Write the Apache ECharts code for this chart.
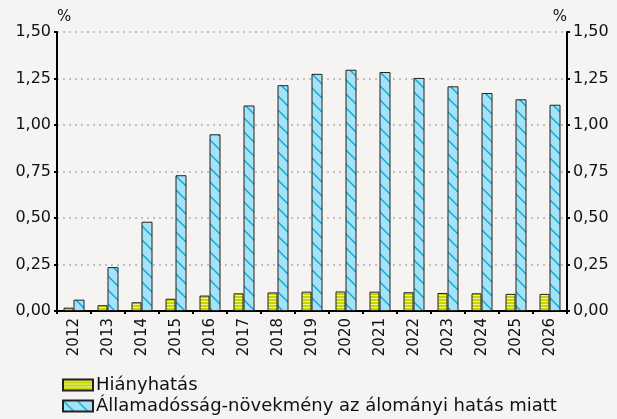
<!DOCTYPE html>
<html>
<head>
<meta charset="utf-8">
<script src="https://cdn.jsdelivr.net/npm/echarts@6/dist/echarts.min.js"></script>
<style>
  html, body { margin: 0; padding: 0; background: #f5f4f2; }
  #chart { width: 617px; height: 419px; }
</style>
</head>
<body>
<div id="chart"></div>
<script>
var years = ['2012', '2013', '2014', '2015', '2016', '2017', '2018', '2019', '2020', '2021', '2022', '2023', '2024', '2025', '2026'];
var hiany = [0.018, 0.031, 0.047, 0.066, 0.083, 0.095, 0.100, 0.104, 0.105, 0.104, 0.101, 0.097, 0.095, 0.092, 0.092];
var allamadossag = [0.061, 0.236, 0.48, 0.73, 0.95, 1.105, 1.214, 1.275, 1.297, 1.285, 1.253, 1.208, 1.172, 1.138, 1.109];
var tickLabels = ['0,00', '0,25', '0,50', '0,75', '1,00', '1,25', '1,50'];
var seriesNames = ['Hiányhatás', 'Államadósság-növekmény az álományi hatás miatt'];

// stripe fills
function yellowPattern() {
    var c = document.createElement('canvas');
    c.width = 4; c.height = 3;
    var ctx = c.getContext('2d');
    ctx.fillStyle = '#c6d400';
    ctx.fillRect(0, 0, 4, 3);
    ctx.fillStyle = '#f0f29a';
    ctx.fillRect(0, 1, 4, 1);
    return c;
}
function bluePattern() {
    var c = document.createElement('canvas');
    c.width = 14; c.height = 14;
    var ctx = c.getContext('2d');
    ctx.fillStyle = '#a3e3f5';
    ctx.fillRect(0, 0, 14, 14);
    ctx.strokeStyle = '#12a6d8';
    ctx.lineWidth = 1.4;
    ctx.beginPath();
    ctx.moveTo(-1, -1); ctx.lineTo(15, 15);
    ctx.moveTo(-8, 6); ctx.lineTo(8, 22);
    ctx.moveTo(6, -8); ctx.lineTo(22, 8);
    ctx.stroke();
    return c;
}

var font = 'DejaVu Sans';
var myChart = echarts.init(document.getElementById('chart'));

var yAxisBase = {
    type: 'value',
    min: 0,
    max: 1.5,
    interval: 0.25,
    name: '%',
    nameGap: 7,
    nameTextStyle: { color: '#111', fontFamily: font, fontSize: 15 },
    axisLine: { show: true, lineStyle: { color: '#000', width: 2 } },
    axisTick: { show: true, length: 3, lineStyle: { color: '#000', width: 2 } },
    axisLabel: {
        color: '#111', fontFamily: font, fontSize: 16, margin: 6,
        formatter: function (v) { return tickLabels[Math.round(v / 0.25)]; }
    }
};

var legendBase = {
    orient: 'vertical',
    left: 57,
    icon: 'rect',
    itemWidth: 30,
    itemHeight: 11,
    textStyle: { color: '#111', fontFamily: font, fontSize: 18, padding: [0, 0, 0, -2] }
};

option = {
    backgroundColor: '#f5f4f2',
    animation: false,
    grid: { left: 57, right: 50, top: 32, bottom: 108 },
    legend: [
        Object.assign({}, legendBase, { top: 371, data: [seriesNames[0]] }),
        Object.assign({}, legendBase, { top: 392, data: [seriesNames[1]] })
    ],
    xAxis: {
        type: 'category',
        data: years,
        axisLine: { lineStyle: { color: '#000', width: 2 } },
        axisTick: { show: true, length: 3, lineStyle: { color: '#000', width: 2 } },
        axisLabel: { rotate: 90, color: '#111', fontFamily: font, fontSize: 15, margin: 7 }
    },
    yAxis: [
        Object.assign({}, yAxisBase, {
            position: 'left',
            nameTextStyle: Object.assign({}, yAxisBase.nameTextStyle, { align: 'left' }),
            splitLine: { show: true, lineStyle: { color: '#b0b0b0', type: [2, 4], width: 1.5 } }
        }),
        Object.assign({}, yAxisBase, {
            position: 'right',
            nameTextStyle: Object.assign({}, yAxisBase.nameTextStyle, { align: 'right' }),
            splitLine: { show: false }
        })
    ],
    series: [
        {
            name: seriesNames[0],
            type: 'bar',
            data: hiany,
            barWidth: 10,
            barGap: '0%',
            itemStyle: {
                color: { image: yellowPattern(), repeat: 'repeat' },
                borderColor: '#222',
                borderWidth: 1
            }
        },
        {
            name: seriesNames[1],
            type: 'bar',
            data: allamadossag,
            barWidth: 11,
            itemStyle: {
                color: { image: bluePattern(), repeat: 'repeat' },
                borderColor: '#222',
                borderWidth: 1
            }
        }
    ]
};

myChart.setOption(option);
</script>
</body>
</html>
